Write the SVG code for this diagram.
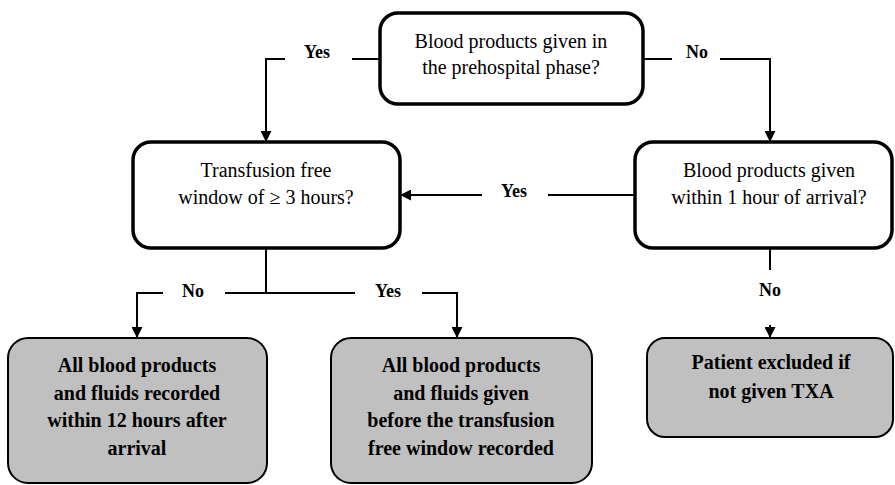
<svg xmlns="http://www.w3.org/2000/svg" width="895" height="485" viewBox="0 0 895 485">
<defs>
<marker id="ah" viewBox="0 0 10 10" refX="10" refY="5" markerWidth="12" markerHeight="11" markerUnits="userSpaceOnUse" orient="auto">
<path d="M0,0 L10,5 L0,10 z" fill="#000"/>
</marker>
</defs>
<rect width="895" height="485" fill="#fff"/>
<g id="connectors" fill="none" stroke="#000" stroke-width="2">
<path d="M380,59 H352"/>
<path d="M285,59 H266 V142" marker-end="url(#ah)"/>
<path d="M643,59 H672"/>
<path d="M720,59 H770 V142" marker-end="url(#ah)"/>
<path d="M635,195 H548"/>
<path d="M482,195 H400" marker-end="url(#ah)"/>
<path d="M266,248 V293"/>
<path d="M163,293 H137 V338" marker-end="url(#ah)"/>
<path d="M225,293 H355"/>
<path d="M422,293 H457 V338" marker-end="url(#ah)"/>
<path d="M770,248 V270"/>
<path d="M770,325 V338" marker-end="url(#ah)"/>
</g>
<g id="labels">
<text style="font-family:'Liberation Serif',serif;font-size:18px;font-weight:bold" text-anchor="middle" x="317" y="58">Yes</text>
<text style="font-family:'Liberation Serif',serif;font-size:18px;font-weight:bold" text-anchor="middle" x="697" y="58">No</text>
<text style="font-family:'Liberation Serif',serif;font-size:18px;font-weight:bold" text-anchor="middle" x="514" y="197">Yes</text>
<text style="font-family:'Liberation Serif',serif;font-size:18px;font-weight:bold" text-anchor="middle" x="193" y="297">No</text>
<text style="font-family:'Liberation Serif',serif;font-size:18px;font-weight:bold" text-anchor="middle" x="388" y="297">Yes</text>
<text style="font-family:'Liberation Serif',serif;font-size:18px;font-weight:bold" text-anchor="middle" x="770" y="296">No</text>
</g>
<g id="q1">
<rect x="380" y="13" width="263" height="91" rx="18" fill="#fff" stroke="#000" stroke-width="3.5"/>
<text style="font-family:'Liberation Serif',serif;font-size:20px" text-anchor="middle" x="511" y="48">Blood products given in</text>
<text style="font-family:'Liberation Serif',serif;font-size:20px" text-anchor="middle" x="511" y="74">the prehospital phase?</text>
</g>
<g id="q2">
<rect x="133" y="142" width="267" height="106" rx="18" fill="#fff" stroke="#000" stroke-width="3.5"/>
<text style="font-family:'Liberation Serif',serif;font-size:20px" text-anchor="middle" x="266" y="177">Transfusion free</text>
<text style="font-family:'Liberation Serif',serif;font-size:20px" text-anchor="middle" x="266" y="204">window of ≥ 3 hours?</text>
</g>
<g id="q3">
<rect x="635" y="142" width="257" height="106" rx="18" fill="#fff" stroke="#000" stroke-width="3.5"/>
<text style="font-family:'Liberation Serif',serif;font-size:20px" text-anchor="middle" x="769" y="177">Blood products given</text>
<text style="font-family:'Liberation Serif',serif;font-size:20px" text-anchor="middle" x="769" y="204">within 1 hour of arrival?</text>
</g>
<g id="r1">
<rect x="8" y="338" width="259" height="145" rx="20" fill="#c0c0c0" stroke="#000" stroke-width="2"/>
<text style="font-family:'Liberation Serif',serif;font-size:20px;font-weight:bold" text-anchor="middle" x="137" y="372">All blood products</text>
<text style="font-family:'Liberation Serif',serif;font-size:20px;font-weight:bold" text-anchor="middle" x="137" y="400">and fluids recorded</text>
<text style="font-family:'Liberation Serif',serif;font-size:20px;font-weight:bold" text-anchor="middle" x="137" y="427">within 12 hours after</text>
<text style="font-family:'Liberation Serif',serif;font-size:20px;font-weight:bold" text-anchor="middle" x="137" y="455">arrival</text>
</g>
<g id="r2">
<rect x="331" y="338" width="261" height="145" rx="20" fill="#c0c0c0" stroke="#000" stroke-width="2"/>
<text style="font-family:'Liberation Serif',serif;font-size:20px;font-weight:bold" text-anchor="middle" x="461" y="372">All blood products</text>
<text style="font-family:'Liberation Serif',serif;font-size:20px;font-weight:bold" text-anchor="middle" x="461" y="400">and fluids given</text>
<text style="font-family:'Liberation Serif',serif;font-size:20px;font-weight:bold" text-anchor="middle" x="461" y="427">before the transfusion</text>
<text style="font-family:'Liberation Serif',serif;font-size:20px;font-weight:bold" text-anchor="middle" x="461" y="455">free window recorded</text>
</g>
<g id="r3">
<rect x="647" y="338" width="246" height="99" rx="18" fill="#c0c0c0" stroke="#000" stroke-width="2"/>
<text style="font-family:'Liberation Serif',serif;font-size:20px;font-weight:bold" text-anchor="middle" x="771" y="369">Patient excluded if</text>
<text style="font-family:'Liberation Serif',serif;font-size:20px;font-weight:bold" text-anchor="middle" x="771" y="398">not given TXA</text>
</g>
</svg>
